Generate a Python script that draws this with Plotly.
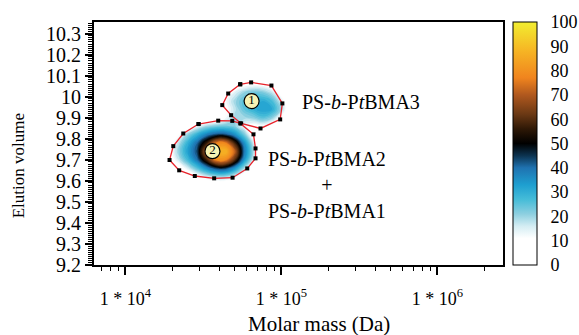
import plotly.graph_objects as go

FONT = "Liberation Serif"

# ---- density grid ----
grid_mass = [16596, 19055, 21878, 25119, 28840, 33113, 38019, 43652,
             50119, 57544, 66069, 75858, 87096, 100000, 114815]
grid_volume = [9.58, 9.62, 9.66, 9.70, 9.74, 9.78, 9.82, 9.86,
               9.90, 9.94, 9.98, 10.02, 10.06, 10.10]
density = [
    [0, 0, 0, 1, 2, 3, 4, 4, 3, 1, 0, 0, 0, 0, 0],
    [0, 0, 0, 2, 10, 16, 20, 20, 15, 6, 0, 0, 0, 0, 0],
    [0, 0, 6, 16, 26, 36, 44, 45, 35, 20, 4, 0, 0, 0, 0],
    [0, 6, 17, 28, 40, 57, 77, 78, 60, 35, 16, 0, 0, 0, 0],
    [0, 9, 21, 33, 44, 70, 87, 88, 72, 40, 20, 0, 0, 0, 0],
    [0, 7, 18, 30, 41, 56, 75, 77, 58, 36, 17, 0, 0, 0, 0],
    [0, 1, 11, 21, 30, 38, 43, 43, 36, 24, 8, 0, 0, 0, 0],
    [0, 0, 0, 7, 14, 20, 23, 24, 22, 14, 10, 12, 6, 0, 0],
    [0, 0, 0, 0, 0, 2, 4, 12, 20, 20, 22, 26, 22, 10, 1],
    [0, 0, 0, 0, 0, 0, 1, 10, 18, 25, 30, 33, 31, 20, 3],
    [0, 0, 0, 0, 0, 0, 2, 12, 20, 26, 30, 31, 27, 16, 2],
    [0, 0, 0, 0, 0, 0, 0, 6, 15, 21, 24, 23, 18, 8, 0],
    [0, 0, 0, 0, 0, 0, 0, 0, 4, 9, 11, 10, 6, 0, 0],
    [0, 0, 0, 0, 0, 0, 0, 0, 0, 0, 0, 0, 0, 0, 0],
]

# ---- selection polygons ----
poly1_mass = [54450, 63970, 86300, 101400, 98200, 73450, 55200, 47640, 41780, 45600]
poly1_volume = [10.059, 10.068, 10.053, 9.968, 9.892, 9.849, 9.873, 9.912, 9.960, 10.015]
poly2_mass = [29440, 39360, 48420, 54450, 66220, 68230, 68230, 60390, 48640,
              37070, 27860, 22130, 19190, 20280, 23500]
poly2_volume = [9.870, 9.886, 9.885, 9.873, 9.821, 9.754, 9.707, 9.659, 9.615,
                9.612, 9.623, 9.650, 9.699, 9.765, 9.825]

# ---- peak labels ----
peak_labels = ["1", "2"]
peak_mass = [64400, 36140]
peak_volume = [9.979, 9.741]

# ---- axes ticks ----
x_tickvals = [1e4, 1e5, 1e6]
x_ticktext = ["1 * 10<sup>4</sup>", "1 * 10<sup>5</sup>", "1 * 10<sup>6</sup>"]
y_tickvals = [9.2, 9.3, 9.4, 9.5, 9.6, 9.7, 9.8, 9.9, 10.0, 10.1, 10.2, 10.3]
y_ticktext = ["9.2", "9.3", "9.4", "9.5", "9.6", "9.7", "9.8", "9.9", "10", "10.1", "10.2", "10.3"]
cbar_ticks = [0, 10, 20, 30, 40, 50, 60, 70, 80, 90, 100]

colorscale = [
    [0.0, "#ffffff"], [0.11, "#ffffff"], [0.16, "#d4edf3"], [0.21, "#8dcfe0"],
    [0.27, "#45bcd8"], [0.33, "#1e9fd0"], [0.40, "#1f72b0"], [0.45, "#0c3350"],
    [0.50, "#000000"], [0.56, "#2e1806"], [0.62, "#6a3814"], [0.70, "#b0581e"],
    [0.77, "#f0841e"], [0.88, "#f6b424"], [1.0, "#f2ee30"],
]

fig = go.Figure()

fig.add_trace(go.Contour(
    x=grid_mass, y=grid_volume, z=density,
    colorscale=colorscale, zmin=0, zmax=100, zauto=False,
    contours=dict(start=1, end=100, size=2, coloring="fill", showlines=False),
    line=dict(width=0, smoothing=1.3),
    showscale=False, hoverinfo="skip",
))

for pm, pv in [(poly1_mass, poly1_volume), (poly2_mass, poly2_volume)]:
    fig.add_trace(go.Scatter(
        x=pm + pm[:1], y=pv + pv[:1], mode="lines+markers",
        line=dict(color="#e8232b", width=1.3),
        marker=dict(symbol="square", size=4, color="black"),
        showlegend=False, hoverinfo="skip",
    ))

fig.add_trace(go.Scatter(
    x=peak_mass, y=peak_volume, mode="markers+text", text=peak_labels,
    textposition="middle center",
    textfont=dict(family=FONT, size=13, color="black"),
    marker=dict(size=15, color="#f7f3b4", line=dict(color="black", width=1.2)),
    showlegend=False, hoverinfo="skip",
))

# colorbar carrier
fig.add_trace(go.Scatter(
    x=[None, None], y=[None, None], mode="markers",
    marker=dict(color=[0, 100], cmin=0, cmax=100, colorscale=colorscale, showscale=True,
                colorbar=dict(x=1.0244, xanchor="left", xpad=0, y=0.5, yanchor="middle",
                              len=1, lenmode="fraction", ypad=0, thickness=24,
                              outlinewidth=1, outlinecolor="black",
                              tickmode="array", tickvals=cbar_ticks,
                              ticks="outside", ticklen=10, tickcolor="rgba(0,0,0,0)",
                              tickfont=dict(family=FONT, size=18, color="black"))),
    showlegend=False, hoverinfo="skip",
))

fig.add_annotation(x=5.12, y=9.974, xref="x", yref="y", xanchor="left", yanchor="middle",
                   text="PS-<i>b</i>-P<i>t</i>BMA3", showarrow=False,
                   font=dict(family=FONT, size=20, color="black"))
fig.add_annotation(x=5.291, y=9.58, xref="x", yref="y", xanchor="center", yanchor="middle",
                   text="PS-<i>b</i>-P<i>t</i>BMA2<br>+<br>PS-<i>b</i>-P<i>t</i>BMA1",
                   showarrow=False, font=dict(family=FONT, size=20, color="black"))

fig.add_annotation(x=0.551, y=-0.243, xref="paper", yref="paper", xanchor="center", yanchor="middle",
                   text="Molar mass (Da)", showarrow=False,
                   font=dict(family=FONT, size=21, color="black"))
fig.add_annotation(x=-0.186, y=0.41, xref="paper", yref="paper", xanchor="center", yanchor="middle",
                   text="Elution volume", textangle=-90, showarrow=False,
                   font=dict(family=FONT, size=17, color="black"))

fig.update_layout(
    width=579, height=335,
    margin=dict(l=94, r=76, t=22, b=70, autoexpand=False),
    paper_bgcolor="white", plot_bgcolor="white",
    showlegend=False,
    xaxis=dict(type="log", range=[3.799, 6.42], tickmode="array",
               tickvals=x_tickvals, ticktext=x_ticktext,
               ticks="outside", ticklen=8, tickwidth=1.5, tickcolor="black",
               minor=dict(ticks="outside", ticklen=4, tickwidth=1, tickcolor="black",
                          dtick="D1", showgrid=False),
               showline=True, linewidth=2, linecolor="black", mirror=True,
               showgrid=False, zeroline=False, ticklabelstandoff=8,
               tickfont=dict(family=FONT, size=18, color="black")),
    yaxis=dict(range=[9.2, 10.355], tickmode="array",
               tickvals=y_tickvals, ticktext=y_ticktext,
               ticks="outside", ticklen=7, tickwidth=1.5, tickcolor="black",
               minor=dict(ticks="outside", ticklen=4, tickwidth=1, tickcolor="black",
                          dtick=0.01, tick0=9.2, showgrid=False),
               showline=True, linewidth=2, linecolor="black", mirror=True,
               showgrid=False, zeroline=False,
               tickfont=dict(family=FONT, size=20, color="black")),
)

fig.write_html("out.html")
